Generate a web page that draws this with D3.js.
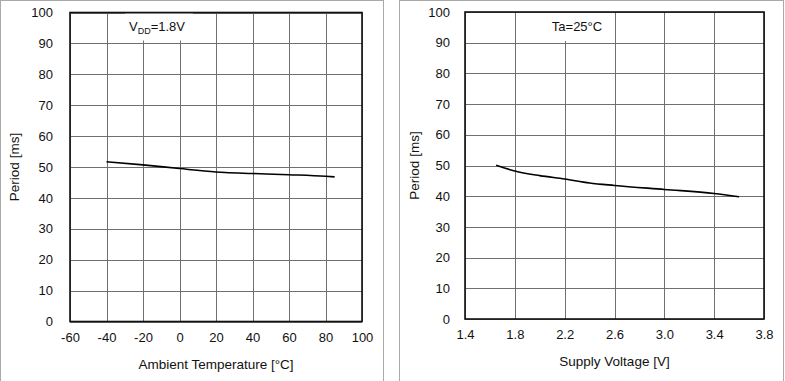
<!DOCTYPE html>
<html>
<head>
<meta charset="utf-8">
<script src="https://cdn.jsdelivr.net/npm/d3@7"></script>
<style>
  body { margin: 0; background: #fff; }
  svg text { font-family: "Liberation Sans", Arial, sans-serif; fill: #111; }
</style>
</head>
<body>
<svg id="chart" width="785" height="381"></svg>
<script>
// datos
const tempX = [-40, -20, 0, 20, 25, 40, 60, 80, 85];
const tempPeriod = [51.7, 50.7, 49.5, 48.4, 48.2, 47.9, 47.5, 47.0, 46.8];
const voltX = [1.65, 1.8, 2.0, 2.2, 2.4, 2.6, 3.0, 3.4, 3.6];
const voltPeriod = [50.1, 48.2, 46.7, 45.6, 44.3, 43.5, 42.2, 40.9, 39.8];

const tempTicks = [-60, -40, -20, 0, 20, 40, 60, 80, 100];
const voltTicks = [1.4, 1.8, 2.2, 2.6, 3.0, 3.4, 3.8];
const periodTicks = [0, 10, 20, 30, 40, 50, 60, 70, 80, 90, 100];

const svg = d3.select("#chart");

function dibujarPanel(cfg) {
    const g = svg.append("g");

    // marco exterior del panel
    g.append("rect")
        .attr("x", cfg.box[0] + 0.5).attr("y", cfg.box[1] + 0.5)
        .attr("width", cfg.box[2]).attr("height", cfg.box[3])
        .attr("fill", "none").attr("stroke", "#aaa");

    const x = d3.scaleLinear().domain(cfg.xDomain).range([cfg.left, cfg.right]);
    const y = d3.scaleLinear().domain([0, 100]).range([cfg.bottom, cfg.top]);

    // rejilla
    g.append("g").selectAll("line")
        .data(cfg.xTicks)
        .join("line")
        .attr("x1", d => Math.round(x(d)) + 0.5).attr("x2", d => Math.round(x(d)) + 0.5)
        .attr("y1", cfg.top).attr("y2", cfg.bottom)
        .attr("stroke", "#707070").attr("stroke-width", 1);
    g.append("g").selectAll("line")
        .data(periodTicks)
        .join("line")
        .attr("x1", cfg.left).attr("x2", cfg.right)
        .attr("y1", d => Math.round(y(d)) + 0.5).attr("y2", d => Math.round(y(d)) + 0.5)
        .attr("stroke", "#707070").attr("stroke-width", 1);

    // caja blanca detras de la anotacion
    g.append("rect")
        .attr("x", cfg.noteBox[0]).attr("y", cfg.top + 1)
        .attr("width", cfg.noteBox[1]).attr("height", cfg.noteBox[2])
        .attr("fill", "#fff");

    // marco del area
    g.append("rect")
        .attr("x", cfg.left).attr("y", cfg.top)
        .attr("width", cfg.right - cfg.left).attr("height", cfg.bottom - cfg.top)
        .attr("fill", "none").attr("stroke", "#111").attr("stroke-width", 1.6);

    // ejes con los ticks
    const ax = g.append("g")
        .attr("transform", `translate(0,${cfg.bottom})`)
        .call(d3.axisBottom(x).tickValues(cfg.xTicks).tickSize(0).tickPadding(cfg.xPad).tickFormat(cfg.xFormat));
    ax.select(".domain").remove();
    ax.selectAll("text").style("font-size", "13px").attr("fill", "#111");

    const ay = g.append("g")
        .attr("transform", `translate(${cfg.left},0)`)
        .call(d3.axisLeft(y).tickValues(periodTicks).tickSize(0).tickPadding(cfg.yPad).tickFormat(d => String(d)));
    ay.select(".domain").remove();
    ay.selectAll("text").style("font-size", "13px").attr("fill", "#111");

    // curva
    const linea = d3.line().x((d, i) => x(cfg.xs[i])).y(d => y(d)).curve(d3.curveMonotoneX);
    g.append("path")
        .datum(cfg.ys)
        .attr("d", linea)
        .attr("fill", "none").attr("stroke", "#000").attr("stroke-width", 1.6);

    // titulos
    g.append("text")
        .attr("x", (cfg.left + cfg.right) / 2).attr("y", cfg.xTitleY)
        .attr("text-anchor", "middle")
        .style("font-size", "13.5px")
        .text(cfg.xTitle);
    g.append("text")
        .attr("transform", `translate(${cfg.yTitleX},${(cfg.top + cfg.bottom) / 2}) rotate(-90)`)
        .attr("text-anchor", "middle")
        .style("font-size", "13.5px")
        .text("Period [ms]");

    return g;
}

const izq = dibujarPanel({
    box: [0, 0, 383, 384],
    left: 70, right: 362, top: 12.5, bottom: 321.5,
    xDomain: [-60, 100], xTicks: tempTicks, xFormat: d => String(d),
    xs: tempX, ys: tempPeriod,
    xPad: 11, yPad: 17,
    noteBox: [125, 68, 27],
    xTitle: "Ambient Temperature [°C]", xTitleY: 369, yTitleX: 19
});
const nota1 = izq.append("text")
    .attr("x", 129).attr("y", 31)
    .style("font-size", "13px");
nota1.append("tspan").text("V");
nota1.append("tspan").attr("dy", 3).style("font-size", "9px").text("DD");
nota1.append("tspan").attr("dy", -3).text("=1.8V");

const der = dibujarPanel({
    box: [399, 0, 384, 384],
    left: 465, right: 764, top: 12, bottom: 319,
    xDomain: [1.4, 3.8], xTicks: voltTicks, xFormat: d3.format(".1f"),
    xs: voltX, ys: voltPeriod,
    xPad: 11, yPad: 15,
    noteBox: [530, 80, 28],
    xTitle: "Supply Voltage [V]", xTitleY: 366, yTitleX: 419
});
der.append("text")
    .attr("x", 577).attr("y", 31)
    .attr("text-anchor", "middle")
    .style("font-size", "13px")
    .text("Ta=25°C");
</script>
</body>
</html>
